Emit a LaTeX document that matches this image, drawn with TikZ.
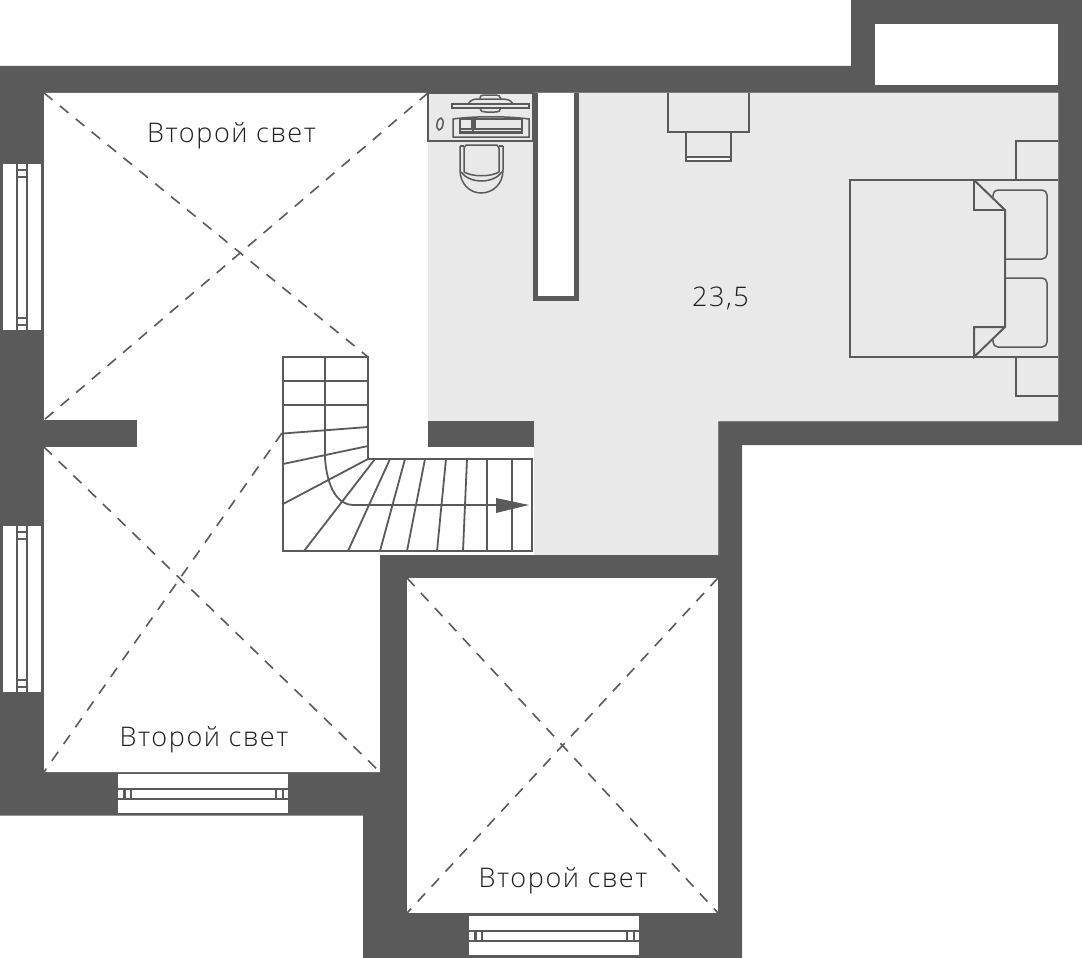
\documentclass[tikz,border=0pt]{standalone}
\usepackage{fontspec}
\setmainfont{Open Sans Light}[LetterSpace=5.8]
\usetikzlibrary{arrows}
\definecolor{wallgray}{HTML}{5A5A5A}
\definecolor{floorgray}{HTML}{E9E9E9}
\definecolor{labelgray}{HTML}{1F1F1F}
\tikzset{
  wall/.style={fill=wallgray, draw=none},
  floorzone/.style={fill=floorgray, draw=none},
  pane/.style={fill=white, draw=none},
  furn/.style={draw=wallgray, line width=2pt},
  thinfurn/.style={draw=wallgray, line width=1.5pt},
  stairline/.style={draw=wallgray, line width=1.8pt},
  crossline/.style={draw=wallgray, line width=1.6pt, dash pattern=on 11pt off 9.5pt},
  roomlabel/.style={text=labelgray, font=\fontsize{27}{31}\selectfont, inner sep=0pt, anchor=base},
}

\begin{document}
\begin{tikzpicture}[x=1pt,y=-1pt]
\useasboundingbox (0,0) rectangle (1082,958);

% walls
\fill[wall] (0,66) -- (851,66) -- (851,0) -- (1082,0) -- (1082,445) -- (742,445) -- (742,958) -- (363,958) -- (363,815.5) -- (0,815.5) -- cycle;
\fill[white] (44,93) -- (1058,93) -- (1058,421) -- (718,421) -- (718,555) -- (380,555) -- (380,772) -- (44,772) -- cycle;
% floor
\fill[floorzone] (428,93) -- (1058,93) -- (1058,421) -- (718,421) -- (718,555) -- (534,555) -- (534,421) -- (428,421) -- cycle;
\fill[white] (407,578) rectangle (718,913);
\fill[white] (875,24) rectangle (1058,85);
\fill[wall] (380,555) rectangle (718,578);
\fill[wall] (380,555) rectangle (407,772);
\fill[wall] (44,420) rectangle (137,447);
\fill[wall] (428,421) rectangle (534,447);
\fill[wall] (533,93) rectangle (579,301);
\fill[white] (538,93) rectangle (574,296);

% windows
\foreach \ya in {164,526} {
  \fill[pane] (2.5,\ya) rectangle ++(13.5,166);
  \fill[pane] (28,\ya) rectangle ++(13,166);
  \foreach \ca/\cb in {0/5,7/12,14/153,155/160,162/166}
    \fill[pane] (18,\ya+\ca) rectangle (26,\ya+\cb);
}
\foreach \xa/\ya in {118/774,469/916} {
  \fill[pane] (\xa,\ya) rectangle ++(170,14);
  \fill[pane] (\xa,\ya+26) rectangle ++(170,13);
  \foreach \ca/\cb in {0/5,8/12,14/157,159/164,166/170}
    \fill[pane] (\xa+\ca,\ya+16) rectangle (\xa+\cb,\ya+24);
}

% second light
\draw[crossline] (44,93) -- (368,357);
\draw[crossline] (428,93) -- (44,420);
\draw[crossline] (44,447) -- (380,772);
\draw[crossline] (282,433) -- (44,772);
\draw[crossline] (407,578) -- (718,913);
\draw[crossline] (718,578) -- (407,913);

% desk
\draw[thinfurn, fill=floorgray] (428,93) rectangle (533,141);
\draw[thinfurn] (452,104) rectangle (529,108);
\draw[thinfurn] (468,104) .. controls (471,99) and (475,99) .. (480,99) -- (501,99) .. controls (507,99) and (511,100) .. (513,104);
\draw[thinfurn] (480,99) .. controls (480,95) and (482,95) .. (485,95) -- (496,95) .. controls (499,95) and (500,96) .. (501,99);
\draw[thinfurn] (480,108) .. controls (481,112) and (483,112) .. (486,112) -- (495,112) .. controls (499,112) and (500,111) .. (501,108);
\draw[thinfurn] (440,124) ellipse [x radius=3, y radius=6, rotate=-10];
\draw[thinfurn] (453,137) -- (453,119) .. controls (475,116) and (507,116) .. (529,119) -- (529,137) -- cycle;
\draw[thinfurn] (460,119) rectangle (472,129);
\draw[thinfurn] (475,119) rectangle (522,129);
\draw[wallgray, line width=3pt] (460,132.5) -- (522,132.5);
\draw[thinfurn] (473,118) -- (473,134);
\draw[thinfurn] (460,118) -- (460,134);
\draw[thinfurn] (522,118) -- (522,134);

% chair at desk
\draw[thinfurn] (460,146) -- (460,170) .. controls (460,184) and (470,193) .. (481,193) .. controls (493,193) and (503,184) .. (503,170) -- (503,146);
\draw[thinfurn] (460,146) -- (464,146);
\draw[thinfurn] (503,146) -- (499,146);
\draw[thinfurn] (464,172) -- (464,148) -- (466,145) -- (497,145) -- (499,148) -- (499,172);
\draw[thinfurn] (464,172) .. controls (472,177) and (491,177) .. (499,172);
\draw[thinfurn] (461,172) .. controls (470,184) and (493,184) .. (502,172);

% table
\draw[furn] (668,93) -- (668,132) -- (749,132) -- (749,93);
\draw[furn] (686,132) rectangle (731,161);
\fill[wall] (685,156) rectangle (732,162);
\fill[white] (687,157.5) rectangle (730,160);

% bed
\draw[furn] (1058,180) -- (850,180) -- (850,357) -- (1058,357);
\draw[furn] (974,180) -- (1005,210) -- (1005,327) -- (974,357) -- (974,327) -- (1005,327);
\draw[furn] (1005,210) -- (974,210) -- (974,180);
\draw[thinfurn, rounded corners=5pt] (1005,259) -- (1047,259) -- (1047,190) -- (993,190) -- (993,197);
\draw[thinfurn, rounded corners=5pt] (1005,278) -- (1047,278) -- (1047,347) -- (993,347) -- (993,340);
\draw[furn] (1058,141) -- (1016,141) -- (1016,180);
\draw[furn] (1016,357) -- (1016,396) -- (1058,396);

% stairs
\draw[stairline] (283,551) -- (283,357) -- (368,357) -- (368,459) -- (532,459) -- (532,551) -- cycle;
\draw[stairline] (283,381) -- (368,381);
\draw[stairline] (283,405) -- (368,405);
\draw[stairline] (283,433.5) -- (368,427);
\draw[stairline] (283,464) -- (368,446);
\draw[stairline] (283,504) -- (368,459);
\foreach \xa/\xb in {375/304,390/348,405/380,425/407,446/437,467/463,487/487,512/512}
  \draw[stairline] (\xa,459) -- (\xb,551);
\draw[stairline] (325,357) -- (325,458) .. controls (327,488) and (338,505) .. (353,505) -- (497,505);
\fill[wall] (496,498) -- (529,505) -- (496,513) -- cycle;

% labels
\node (light1) [roomlabel] at (231.5,142.5) {Второй свет};
\node (light2) [roomlabel] at (204,746.5) {Второй свет};
\node (light3) [roomlabel] at (563,887.5) {Второй свет};
\node (area) [roomlabel] at (720.5,306) {23,5};

\end{tikzpicture}
\end{document}
